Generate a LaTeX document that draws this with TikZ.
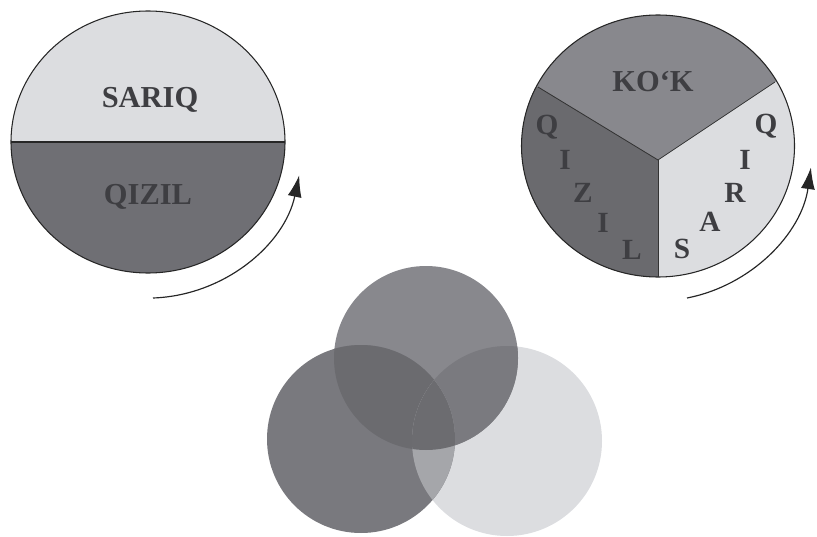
\documentclass[tikz,border=0pt]{standalone}
\usepackage{fontspec}
\setmainfont{Liberation Serif}
\usetikzlibrary{arrows.meta}
\definecolor{light}{HTML}{DCDDE0}
\definecolor{dark}{HTML}{6F6F74}
\definecolor{mid}{HTML}{88888D}
\definecolor{ink}{HTML}{3E3E42}
\begin{document}
\begin{tikzpicture}[x=0.03cm, y=-0.03cm,
    lbl/.style={text=ink, font=\fontsize{26}{26}\selectfont\bfseries, inner sep=0pt},
    ltr/.style={text=ink, font=\fontsize{25}{25}\selectfont\bfseries, inner sep=0pt},
    rim/.style={draw=black!85, line width=0.9pt},
    turn/.style={black!85, line width=1pt, -{Latex[length=0.65cm, width=0.42cm]}}]
  \useasboundingbox (0,0) rectangle (817,537);
  % two colour disc
  \fill[dark] (11,142) arc[start angle=180, end angle=360, x radius=137, y radius=-131] -- cycle;
  \fill[light] (11,142) arc[start angle=180, end angle=0, x radius=137, y radius=-131] -- cycle;
  \draw[rim] (148,142) ellipse (137 and 131);
  \draw[rim] (11,142) -- (285,142);
  \node[lbl] (sariq) at (150,100) {SARIQ};
  \node[lbl] (qizil) at (148,197) {QIZIL};
  \draw[turn] (153,298) arc[start angle=88, end angle=12, radius=155];
  % three colour disc
  \begin{scope}
    \clip (658,146) ellipse (136.5 and 131);
    \fill[mid] (500,0) rectangle (817,300);
    \fill[dark!95!black] (658,160) -- (538,87) -- (400,60) -- (400,320) -- (658,320) -- cycle;
    \fill[light] (658,160) -- (775,82) -- (900,60) -- (900,320) -- (658,320) -- cycle;
  \end{scope}
  \draw[rim] (658,146) ellipse (136.5 and 131);
  \draw[black!80, line width=0.7pt] (538,87) -- (658,160) -- (775,82);
  \draw[black!80, line width=0.7pt] (658,160) -- (658,277);
  \node[lbl] (kok) at (653,82) {KO‘K};
  \node[ltr] (q1) at (547,127) {Q};
  \node[ltr] (i1) at (565,160) {I};
  \node[ltr] (z1) at (583,193) {Z};
  \node[ltr] (i2) at (603,223) {I};
  \node[ltr] (l1) at (632,250) {L};
  \node[ltr] (s1) at (682,249) {S};
  \node[ltr] (a1) at (710,222) {A};
  \node[ltr] (r1) at (735,193) {R};
  \node[ltr] (i3) at (745,160) {I};
  \node[ltr] (q2) at (766,126) {Q};
  \draw[turn] (687,298) arc[start angle=79, end angle=8, radius=155];
  % mixed colours
  \fill[light] (507,441) circle (95);
  \fill[mid] (426,358) circle (92);
  \fill[dark!93!white] (361,439) circle (94);
  \begin{scope}
    \clip (426,358) circle (92);
    \fill[dark!96!black] (361,439) circle (94);
    \fill[mid!90!black] (507,441) circle (95);
  \end{scope}
  \begin{scope}
    \clip (361,439) circle (94);
    \fill[light!50!dark] (507,441) circle (95);
  \end{scope}
  \begin{scope}
    \clip (426,358) circle (92);
    \clip (361,439) circle (94);
    \fill[dark!97!black] (507,441) circle (95);
  \end{scope}
\end{tikzpicture}
\end{document}
